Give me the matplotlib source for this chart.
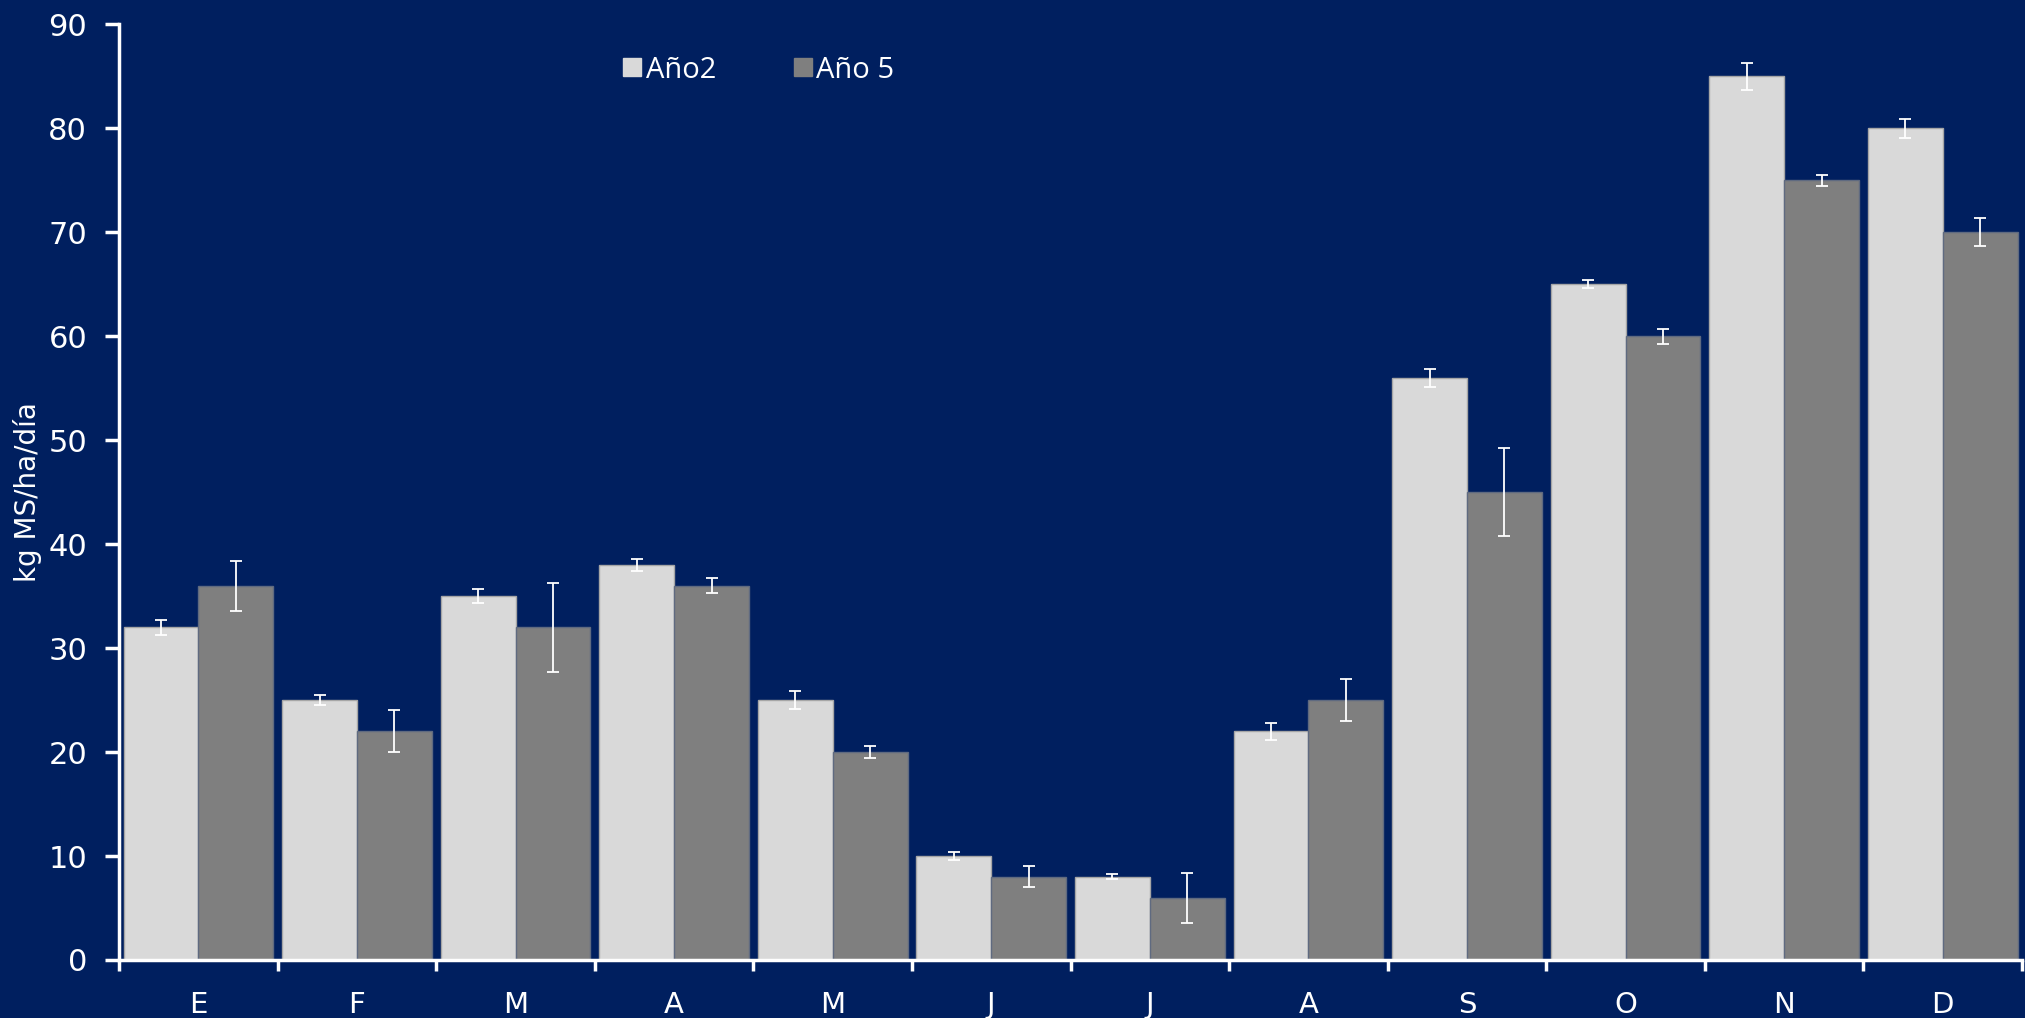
import numpy as np
import matplotlib
matplotlib.use("Agg")
import matplotlib.pyplot as plt
from matplotlib.lines import Line2D

meses = ["E", "F", "M", "A", "M", "J", "J", "A", "S", "O", "N", "D"]
ano2 = [32, 25, 35, 38, 25, 10, 8, 22, 56, 65, 85, 80]
ano5 = [36, 22, 32, 36, 20, 8, 6, 25, 45, 60, 75, 70]
err2 = [0.75, 0.5, 0.7, 0.6, 0.85, 0.4, 0.25, 0.8, 0.9, 0.4, 1.3, 0.95]
err5 = [2.4, 2.0, 4.25, 0.7, 0.55, 1.0, 2.4, 2.0, 4.25, 0.7, 0.5, 1.35]

bg = "#001F5F"
c_light = "#D9D9D9"
c_dark = "#7F7F7F"

fig = plt.figure(figsize=(20.25, 10.18), dpi=100, facecolor=bg)
ax = fig.add_axes([0.0588, 0.057, 0.9397, 0.919], facecolor=bg)

x = np.arange(len(meses))
w = 0.472
ax.bar(x - w / 2, ano2, w, color=c_light, edgecolor="#A6A6A6", linewidth=1, zorder=2)
ax.bar(x + w / 2, ano5, w, color=c_dark, edgecolor="#5F6A80", linewidth=1, zorder=2)
ax.errorbar(x - w / 2, ano2, yerr=err2, fmt="none", ecolor="white",
            elinewidth=1.3, capsize=4.5, capthick=1.3, zorder=3)
ax.errorbar(x + w / 2, ano5, yerr=err5, fmt="none", ecolor="white",
            elinewidth=1.3, capsize=4.5, capthick=1.3, zorder=3)

ax.set_xlim(-0.5, len(meses) - 0.5)
ax.set_ylim(0, 90)
ax.set_yticks(range(0, 91, 10))

ax.set_xticks(x)
ax.set_xticklabels(meses)
ax.set_xticks(np.arange(-0.5, len(meses), 1), minor=True)
ax.tick_params(axis="x", which="major", length=0, pad=22, labelsize=21, colors="white")
ax.tick_params(axis="x", which="minor", length=8, width=2.5, color="white", direction="out")
ax.tick_params(axis="y", length=10, width=2.5, pad=13, labelsize=22, colors="white")

for s in ["top", "right"]:
    ax.spines[s].set_visible(False)
for s in ["left", "bottom"]:
    ax.spines[s].set_color("white")
    ax.spines[s].set_linewidth(2.5)

fig.text(0.0135, 0.517, "kg MS/ha/día", rotation=90, color="white",
         fontsize=20, family=["Liberation Sans Narrow", "DejaVu Sans"],
         ha="center", va="center")

handles = [Line2D([], [], marker="s", linestyle="none", markersize=13,
                  markerfacecolor=c_light, markeredgecolor=c_light),
           Line2D([], [], marker="s", linestyle="none", markersize=13,
                  markerfacecolor=c_dark, markeredgecolor=c_dark)]
leg = fig.legend(handles, ["Año2", "Año 5"], ncol=2, frameon=False,
                 loc="center left", bbox_to_anchor=(596 / 2025, 1 - 70 / 1018),
                 handlelength=0.7, handletextpad=0.12, columnspacing=2.6,
                 prop={"family": ["Open Sans", "DejaVu Sans"], "size": 21})
for t in leg.get_texts():
    t.set_color("white")

fig.savefig("out.png", dpi=100, facecolor=bg)
